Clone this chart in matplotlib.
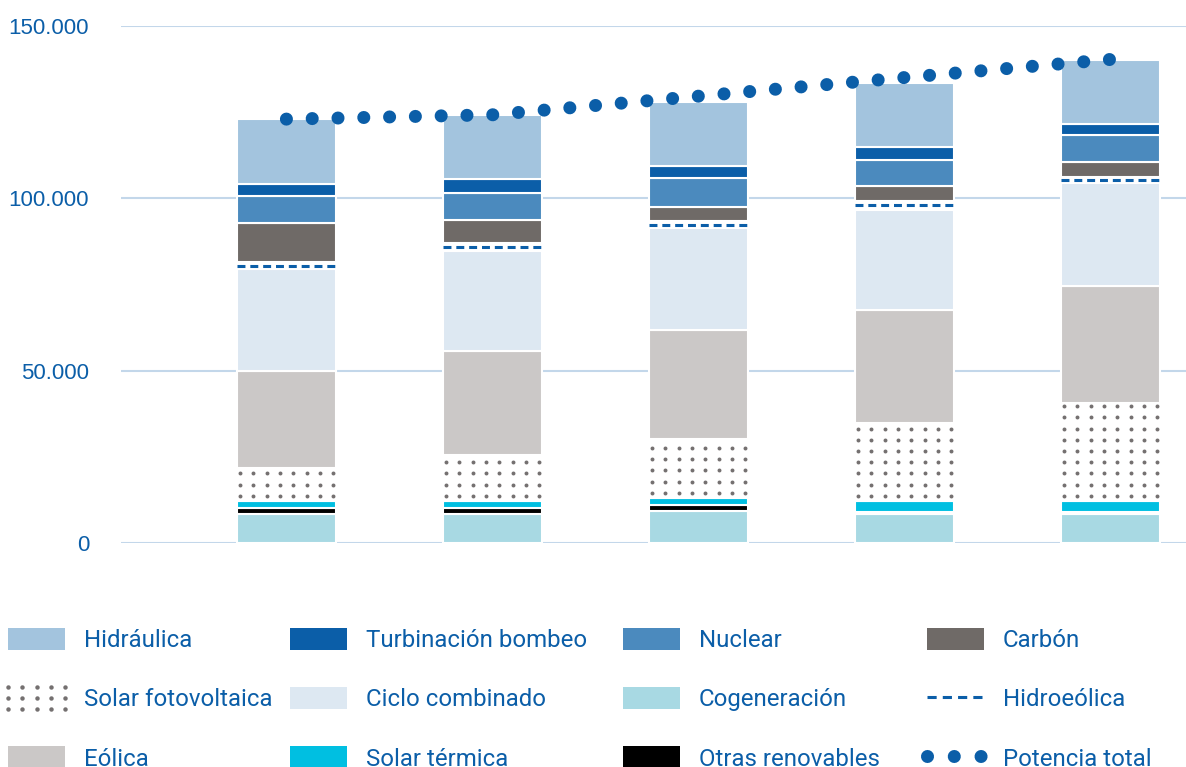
import numpy as np
import matplotlib
matplotlib.use("Agg")
import matplotlib.pyplot as plt
import matplotlib.patches as mpatches
from matplotlib.lines import Line2D
from matplotlib.legend_handler import HandlerBase

# Potencia instalada por tecnología (MW), cinco escenarios/años
periodos = ["1", "2", "3", "4", "5"]
cogeneracion = [8500, 8500, 9500, 8500, 8500]
otras_renovables = [1740, 1740, 1600, 600, 600]
solar_termica = [2030, 2030, 2040, 3170, 3170]
solar_fv = [9580, 13330, 17120, 22480, 28430]
eolica = [28250, 30100, 31540, 32950, 34000]
ciclo_combinado = [29500, 29100, 29500, 29000, 29800]
hidroeolica = [1860, 2300, 2200, 2600, 1600]
carbon = [11440, 6750, 4100, 4300, 4500]
nuclear = [7860, 7850, 8400, 7600, 7700]
turbinacion = [3540, 4000, 3500, 3700, 3300]
hidraulica = [18600, 18550, 18500, 18600, 18600]
potencia_total = [123000, 124250, 129650, 135050, 140300]

yticks = [0, 50000, 100000, 150000]

AZUL = "#0b5ea8"
GRIS_PUNTOS = "#747070"

fig = plt.figure(figsize=(11.86, 7.67), dpi=100)
ax = fig.add_axes([121 / 1186, 1 - 543.3 / 767, 1 - 121 / 1186, (543.3 - 26) / 767])

x = np.arange(len(periodos))
width = 0.48

# orden de apilado, de abajo a arriba
stack = [
    ("Cogeneración", cogeneracion, "#a8d9e3"),
    ("Otras renovables", otras_renovables, "#000000"),
    ("Solar térmica", solar_termica, "#00bfe1"),
    ("Solar fotovoltaica", solar_fv, "white"),
    ("Eólica", eolica, "#cbc8c7"),
    ("Ciclo combinado", ciclo_combinado, "#dde8f2"),
    ("Hidroeólica", hidroeolica, "white"),
    ("Carbón", carbon, "#6f6a67"),
    ("Nuclear", nuclear, "#4b8abe"),
    ("Turbinación bombeo", turbinacion, "#0b5ea8"),
    ("Hidráulica", hidraulica, "#a3c4de"),
]

bottom = np.zeros(len(x))
for name, vals, color in stack:
    vals = np.array(vals, dtype=float)
    ax.bar(x, vals, width, bottom=bottom, color=color, edgecolor="white",
           linewidth=1.5, zorder=2)
    if name == "Solar fotovoltaica":
        # trama de puntos dentro del tramo fotovoltaico
        for xi, b, v in zip(x, bottom, vals):
            cols = np.linspace(xi - width / 2 + 0.03 * width, xi + width / 2 - 0.027 * width, 8)
            rows = np.arange(b + 1500, b + v - 800, 3250)
            gx, gy = np.meshgrid(cols, rows)
            ax.scatter(gx.ravel(), gy.ravel(), s=8, color=GRIS_PUNTOS, lw=0, zorder=3)
    if name == "Hidroeólica":
        mid = bottom + vals / 2
        ax.hlines(mid, x - width / 2, x + width / 2, color=AZUL, lw=2.2,
                  linestyles=(0, (2.6, 1.6)), zorder=3)
    bottom += vals

# potencia total, línea de puntos gruesos
ax.plot(x, potencia_total, color=AZUL, lw=9.4, linestyle=(0, (0.001, 1.975)),
        dash_capstyle="round", zorder=4)

ax.set_xlim(-0.803, 4.367)
ax.set_ylim(0, 150000)
ax.set_yticks(yticks)
ax.set_yticklabels([f"{v:,}".replace(",", ".") for v in yticks],
                   fontfamily="Liberation Sans", fontsize=16, color=AZUL)
ax.tick_params(axis="y", length=0, pad=23)
ax.set_xticks([])
for s in ax.spines.values():
    s.set_visible(False)
ax.yaxis.grid(True, color="#c3d7ea", lw=1.5, zorder=0)
ax.set_axisbelow(True)


class HandlerDotGrid(HandlerBase):
    def create_artists(self, legend, orig_handle, xdescent, ydescent,
                       width, height, fontsize, trans):
        xs = np.linspace(0, width, 5) - xdescent
        ys = np.linspace(0, height, 3) - ydescent
        gx, gy = np.meshgrid(xs, ys)
        dots = Line2D(gx.ravel(), gy.ravel(), linestyle="none", marker="o",
                      markersize=3.2, markeredgewidth=0, color=GRIS_PUNTOS,
                      transform=trans)
        return [dots]


def patch(c):
    return mpatches.Patch(facecolor=c, edgecolor="none")


pv_handle = mpatches.Patch(facecolor="none", edgecolor="none")
hidroeol_handle = Line2D([], [], color=AZUL, lw=2.2, linestyle=(0, (3.0, 2.0)))
total_handle = Line2D([], [], color=AZUL, lw=9.4, linestyle=(0, (0.001, 2.05)),
                      dash_capstyle="round")

columnas = [
    (8, [(patch("#a3c4de"), "Hidráulica"), (pv_handle, "Solar fotovoltaica"),
         (patch("#cbc8c7"), "Eólica")]),
    (290, [(patch("#0b5ea8"), "Turbinación bombeo"), (patch("#dde8f2"), "Ciclo combinado"),
           (patch("#00bfe1"), "Solar térmica")]),
    (623, [(patch("#4b8abe"), "Nuclear"), (patch("#a8d9e3"), "Cogeneración"),
           (patch("#000000"), "Otras renovables")]),
    (927, [(patch("#6f6a67"), "Carbón"), (hidroeol_handle, "Hidroeólica"),
           (total_handle, "Potencia total")]),
]

fs = 17.3
fs_px = fs * 100 / 72
for xpx, items in columnas:
    handles = [h for h, _ in items]
    labels = [l for _, l in items]
    leg = fig.legend(handles, labels, loc="upper left",
                     bbox_to_anchor=(xpx / 1186, 1 - 628 / 767),
                     frameon=False, borderpad=0, borderaxespad=0,
                     handlelength=57 / fs_px, handleheight=25 / fs_px,
                     handletextpad=0.78, labelspacing=1.45,
                     prop={"family": "Roboto", "size": fs},
                     handler_map={pv_handle: HandlerDotGrid()})
    for t in leg.get_texts():
        t.set_color(AZUL)

fig.savefig("out.png", dpi=100)
